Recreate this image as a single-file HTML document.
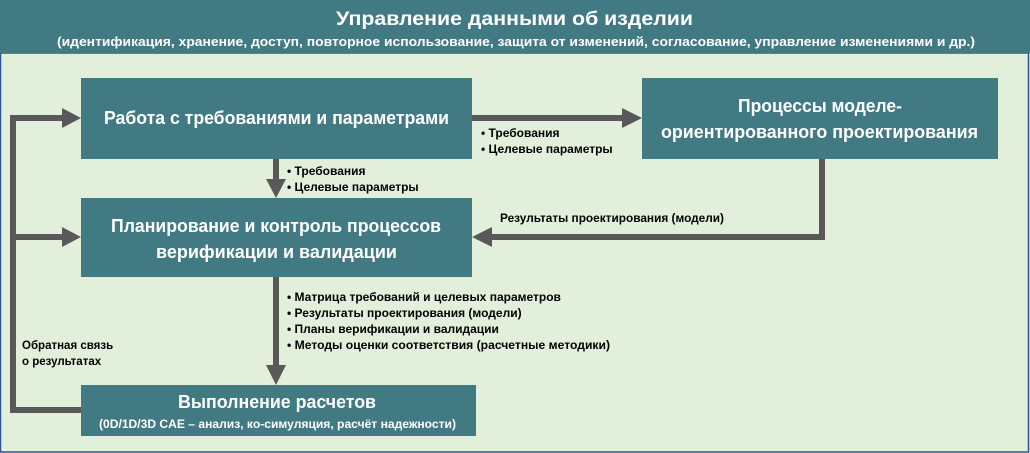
<!DOCTYPE html>
<html><head><meta charset="utf-8"><style>
html,body{margin:0;padding:0;width:1030px;height:453px;overflow:hidden;background:#fff}
svg{display:block}
text{font-family:"Liberation Sans","DejaVu Sans",sans-serif}
</style></head><body>
<svg width="1030" height="453" viewBox="0 0 1030 453" xmlns="http://www.w3.org/2000/svg">
<rect x="0" y="0" width="1030" height="453" fill="#E2EFDA"/>
<rect x="0.5" y="53" width="1028" height="399" fill="none" stroke="#2F5597" stroke-width="1.5"/>
<rect x="0" y="0" width="1030" height="53" fill="#427A84"/>
<text x="336" y="25" fill="#fff" font-size="19" font-weight="bold" textLength="357" lengthAdjust="spacingAndGlyphs">Управление данными об изделии</text>
<text x="57" y="46" fill="#fff" font-size="13" font-weight="bold" textLength="918" lengthAdjust="spacingAndGlyphs">(идентификация, хранение, доступ, повторное использование, защита от изменений, согласование, управление изменениями и др.)</text>

<g fill="#595959" stroke="none">
<rect x="10" y="115" width="6" height="298"/>
<rect x="10" y="407" width="71" height="6"/>
<rect x="10" y="115" width="52" height="6"/>
<polygon points="62,108 81,118 62,128"/>
<rect x="10" y="234" width="52" height="6"/>
<polygon points="62,227 81,237 62,247"/>
<rect x="472" y="115" width="152" height="6"/>
<polygon points="622,108 642,118 622,128"/>
<rect x="273" y="159" width="6" height="22"/>
<polygon points="266,179 286,179 276,198"/>
<rect x="819" y="159" width="6" height="81"/>
<rect x="490" y="234" width="335" height="6"/>
<polygon points="492,227 472,237 492,247"/>
<rect x="273" y="277" width="6" height="90"/>
<polygon points="266,365 286,365 276,385"/>
</g>

<g fill="#427A84">
<rect x="81" y="78" width="391" height="81"/>
<rect x="642" y="78" width="356" height="81"/>
<rect x="81" y="198" width="391" height="79"/>
<rect x="81" y="385" width="395" height="51"/>
</g>
<g fill="#fff" font-weight="bold">
<text x="104" y="124" font-size="18" textLength="345" lengthAdjust="spacingAndGlyphs">Работа с требованиями и параметрами</text>
<text x="738" y="112" font-size="18" textLength="164" lengthAdjust="spacingAndGlyphs">Процессы моделе-</text>
<text x="661" y="138" font-size="18" textLength="317" lengthAdjust="spacingAndGlyphs">ориентированного проектирования</text>
<text x="111" y="232" font-size="18" textLength="330" lengthAdjust="spacingAndGlyphs">Планирование и контроль процессов</text>
<text x="156" y="258" font-size="18" textLength="241" lengthAdjust="spacingAndGlyphs">верификации и валидации</text>
<text x="178" y="408" font-size="18" textLength="198" lengthAdjust="spacingAndGlyphs">Выполнение расчетов</text>
<text x="99" y="428" font-size="12" textLength="357" lengthAdjust="spacingAndGlyphs">(0D/1D/3D CAE – анализ, ко-симуляция, расчёт надежности)</text>
</g>
<g fill="#000" font-size="12" font-weight="bold">
<text x="481" y="137">•  Требования</text>
<text x="481" y="153">•  Целевые параметры</text>
<text x="287" y="175">•  Требования</text>
<text x="287" y="191">•  Целевые параметры</text>
<text x="500" y="222" textLength="224" lengthAdjust="spacingAndGlyphs">Результаты проектирования  (модели)</text>
<text x="287" y="301">•  Матрица требований и целевых параметров</text>
<text x="287" y="317">•  Результаты проектирования  (модели)</text>
<text x="287" y="333">•  Планы верификации и валидации</text>
<text x="287" y="349" textLength="323" lengthAdjust="spacingAndGlyphs">•  Методы оценки соответствия (расчетные методики)</text>
<text x="22" y="349" font-size="11.5">Обратная связь</text>
<text x="22" y="365" font-size="11.5">о результатах</text>
</g>
</svg>
</body></html>
